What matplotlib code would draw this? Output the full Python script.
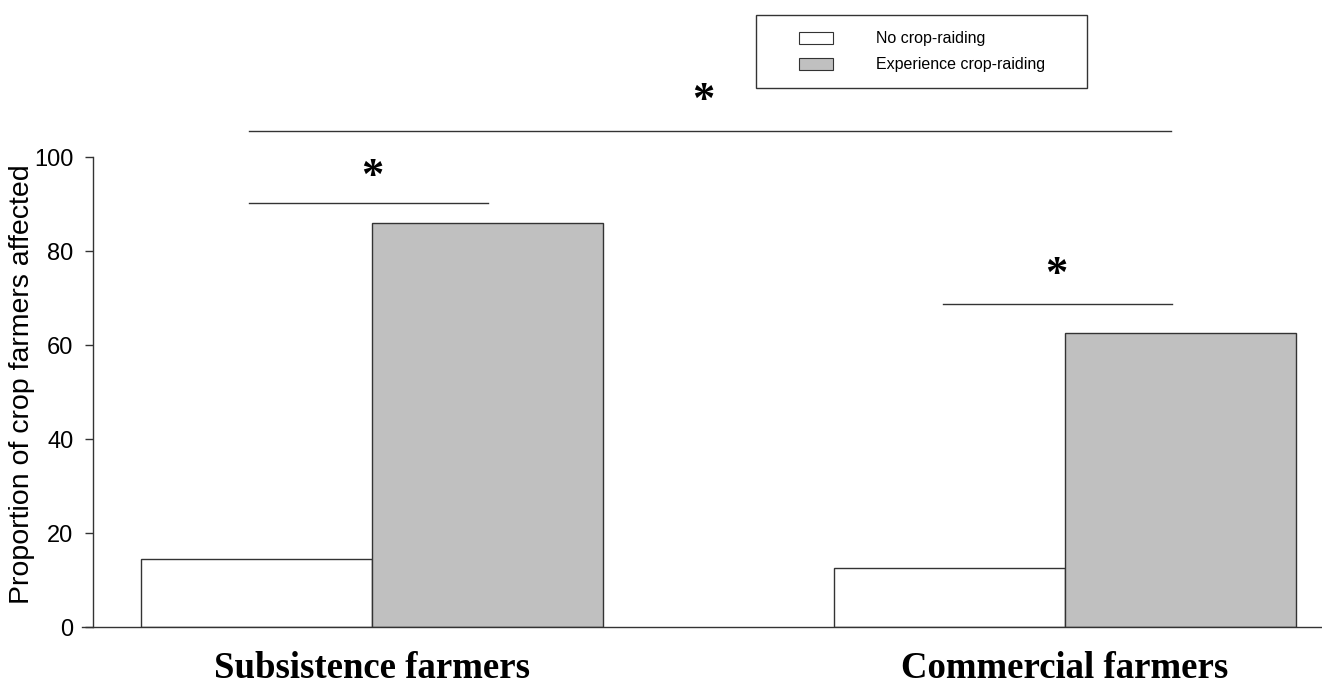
import numpy as np
import matplotlib.pyplot as plt
from matplotlib.patches import Rectangle

# Percent of crop farmers in each group
groups = ["Subsistence farmers", "Commercial farmers"]
no_raiding = [14.4, 12.6]
experience_raiding = [86.0, 62.6]
series_names = ["No crop-raiding", "Experience crop-raiding"]

fig = plt.figure(figsize=(13.22, 6.8), dpi=100)
ax = fig.add_axes([93 / 1322, 53 / 680, 1229 / 1322, 470 / 680])

x = np.arange(len(groups))
w = 1 / 3
edge = "#333333"
ax.bar(x - w / 2, no_raiding, w, color="white", edgecolor=edge, linewidth=1.0)
ax.bar(x + w / 2, experience_raiding, w, color="#c0c0c0", edgecolor=edge, linewidth=1.0)

ax.set_xlim(-0.4026, 1.371)
ax.set_ylim(0, 100)
ax.set_yticks([0, 20, 40, 60, 80, 100])
ax.tick_params(axis="y", length=6, width=1.0, color=edge, labelsize=17, pad=8)
for lab in ax.get_yticklabels():
    lab.set_fontfamily("Liberation Sans")
ax.set_xticks([])
for s in ["top", "right", "bottom"]:
    ax.spines[s].set_visible(False)
ax.spines["left"].set_color(edge)
ax.spines["left"].set_linewidth(1.0)

# baseline runs under the tick marks too
ax.plot([-0.009, 1], [0, 0], transform=ax.get_yaxis_transform(), color=edge,
        lw=1.0, clip_on=False)

ax.set_ylabel("Proportion of crop farmers affected", fontsize=20.5,
              family="Liberation Sans")
ax.yaxis.set_label_coords(-0.047, 0.517)

# group names under the bars
for xi, name in zip(x, groups):
    ax.text(xi, -10.85, name, ha="center", va="baseline", fontsize=26.5,
            family="Liberation Serif", fontweight="bold")

# significance brackets
sig = [(-0.1775, 1.153, 105.5, 0.478, 112.0),
       (-0.1775, 0.1674, 90.2, 0.0, 95.8),
       (0.824, 1.154, 68.7, 0.988, 74.8)]
for x0, x1, yl, xs, ys in sig:
    ax.plot([x0, x1], [yl, yl], color=edge, lw=1.0, clip_on=False)
    ax.text(xs, ys, "*", ha="center", va="center", fontsize=32,
            family="Liberation Serif", fontweight="bold", clip_on=False)

# legend box drawn in pixel coordinates
H = 680
fig.add_artist(Rectangle((756 / 1322, (H - 88) / H), 331 / 1322, 73 / H,
                         transform=fig.transFigure, fill=False, edgecolor=edge, lw=1.0))
fills = ["white", "#c0c0c0"]
for i, (name, fc) in enumerate(zip(series_names, fills)):
    top = 32 + i * 26
    fig.add_artist(Rectangle((799 / 1322, (H - top - 12) / H), 34 / 1322, 12 / H,
                             transform=fig.transFigure, facecolor=fc,
                             edgecolor=edge, lw=0.8))
    fig.text(876 / 1322, (H - top - 6) / H, name, ha="left", va="center",
             fontsize=11.5, family="Liberation Sans")

fig.savefig("out.png", dpi=100)
